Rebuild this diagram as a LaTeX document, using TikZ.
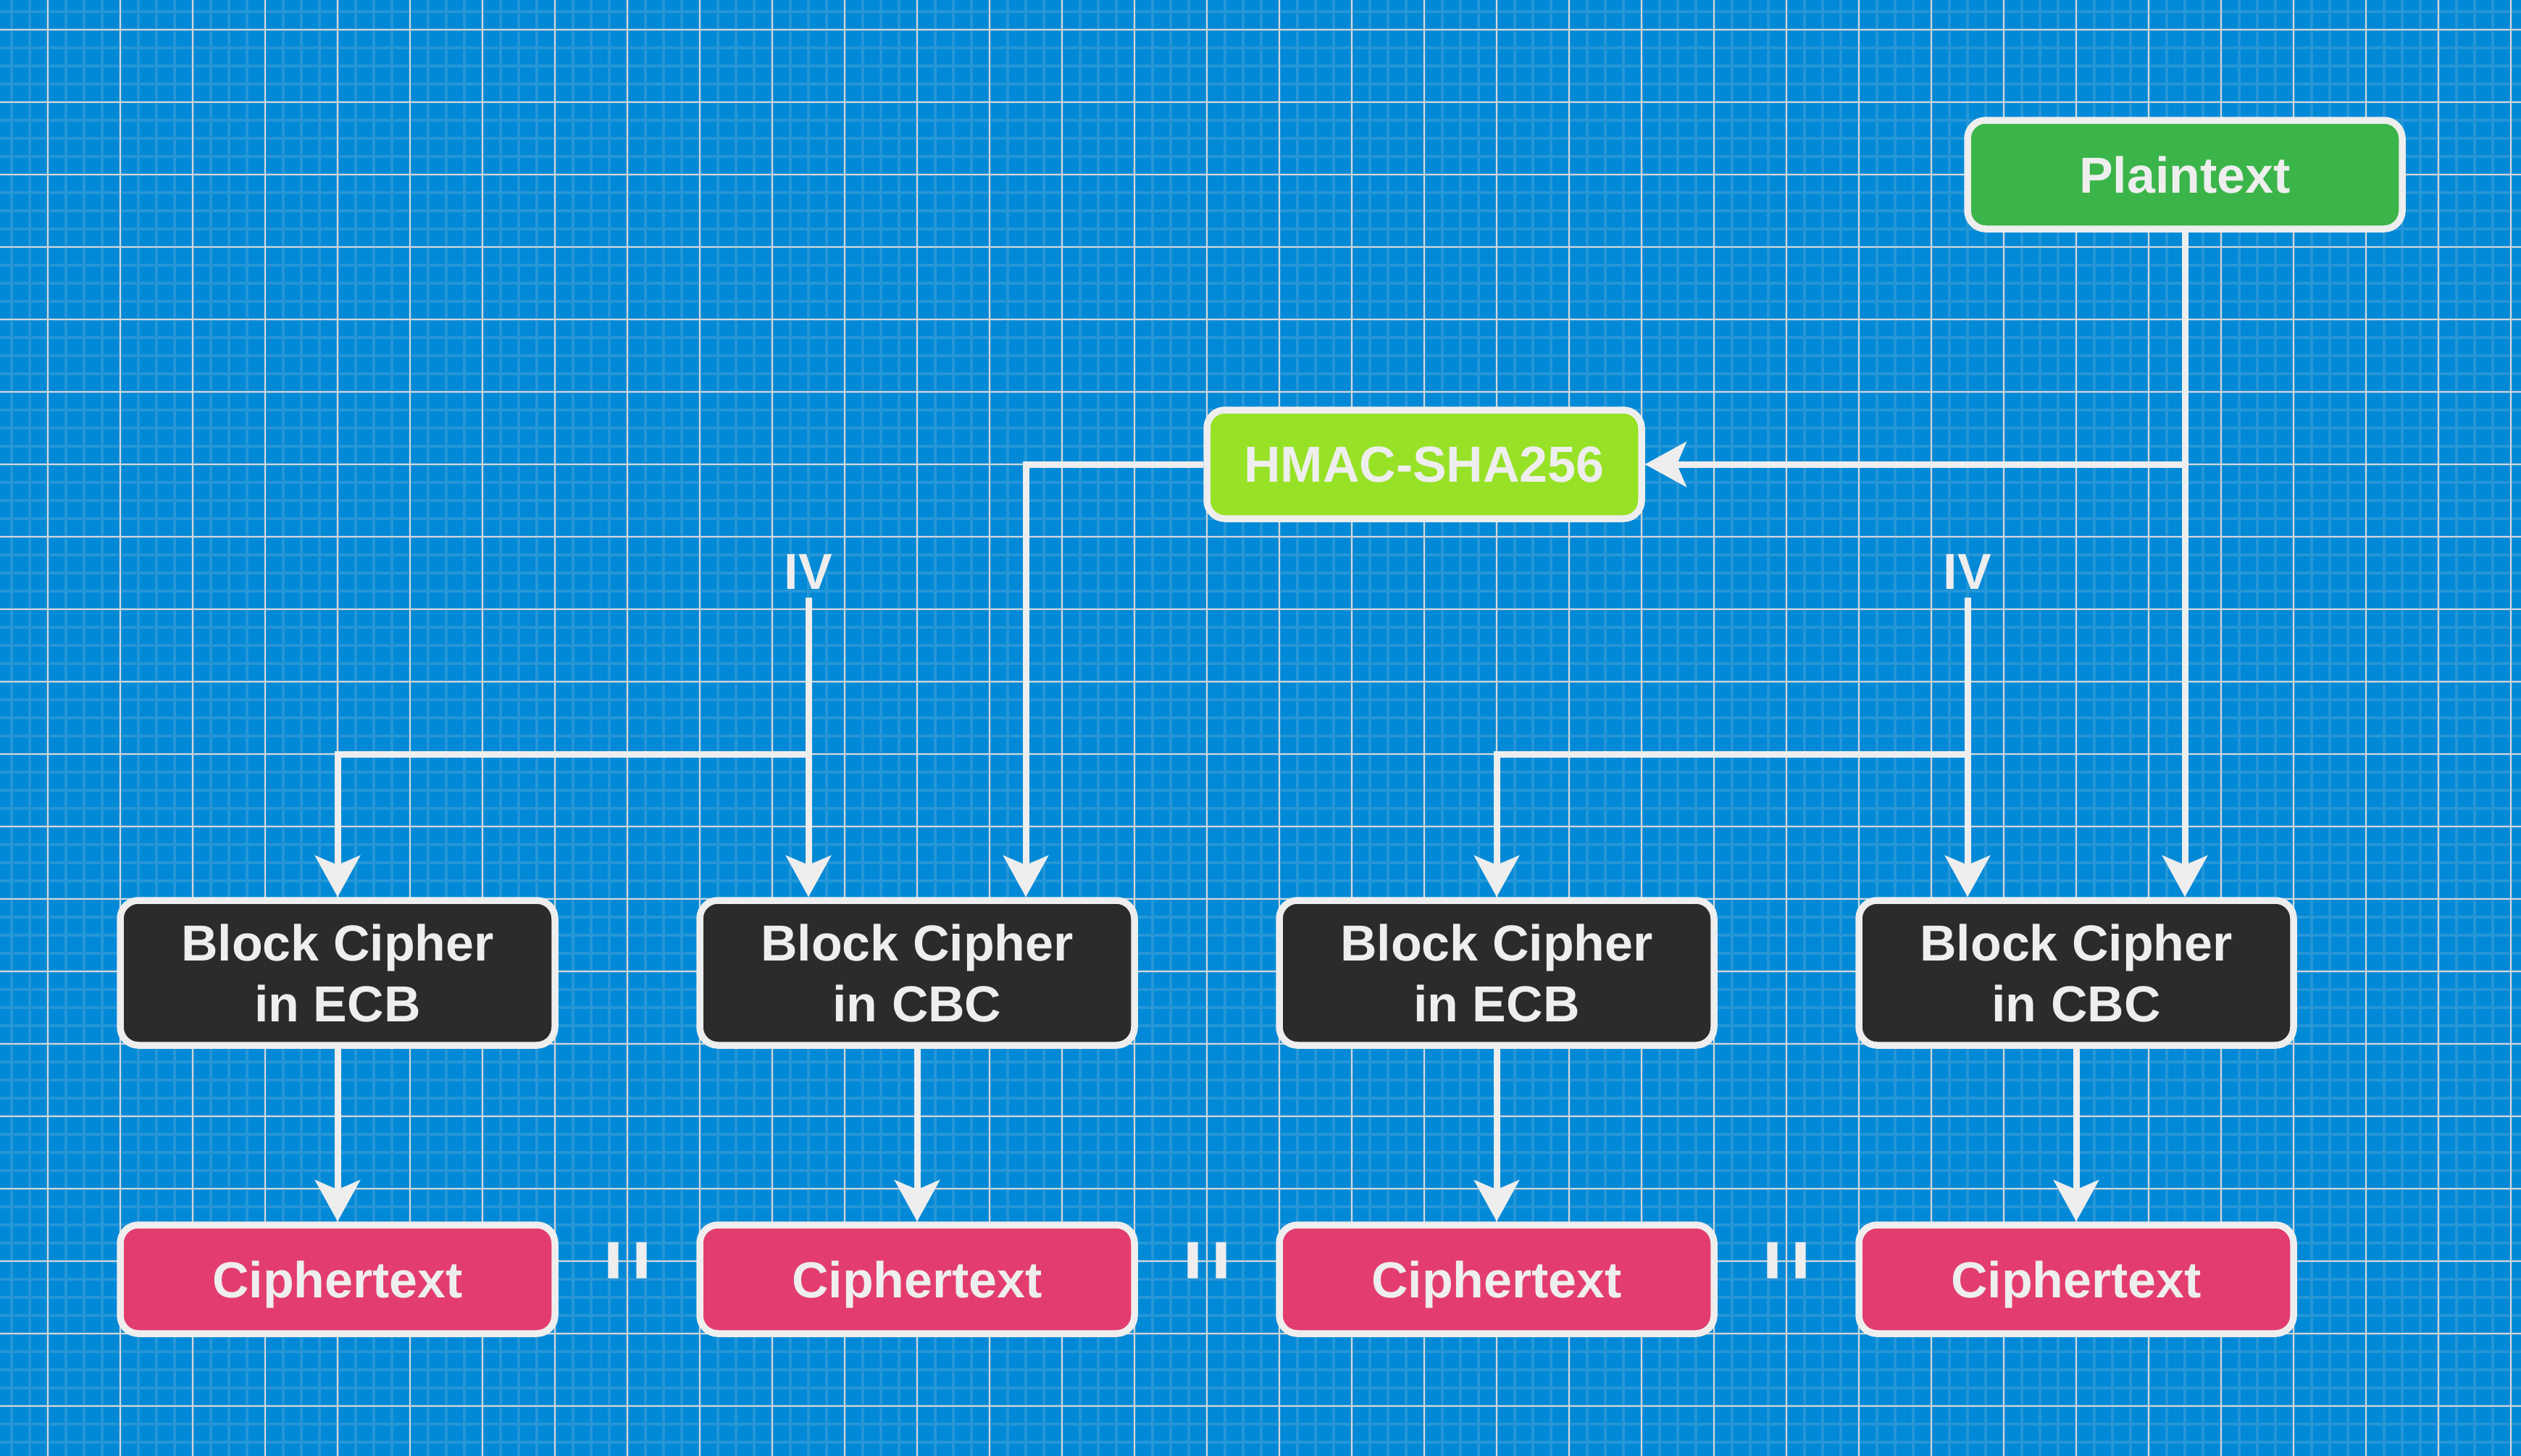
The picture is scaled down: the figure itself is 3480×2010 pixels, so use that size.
\documentclass[tikz,border=0pt]{standalone}
\usepackage{fontspec}
\setmainfont{Liberation Sans}
\usetikzlibrary{arrows.meta}

\definecolor{bgblue}{RGB}{0,137,214}
\definecolor{minorblue}{RGB}{38,150,215}
\definecolor{majorgrey}{RGB}{210,214,218}
\definecolor{offwhite}{RGB}{238,238,238}
\definecolor{plaingreen}{RGB}{59,181,74}
\definecolor{hmaclime}{RGB}{151,226,38}
\definecolor{blockdark}{RGB}{43,43,43}
\definecolor{cipherpink}{RGB}{227,61,111}

\begin{document}
\begin{tikzpicture}[x=0.1mm, y=-0.1mm,
    minorgrid/.style={draw=minorblue, line width=0.42mm},
    majorgrid/.style={draw=majorgrey, line width=0.2mm},
    box/.style={draw=offwhite, line width=0.95mm, rounded corners=2.5mm,
      text=offwhite, font=\bfseries\fontsize{19.9}{23.9}\selectfont,
      align=center, minimum width=60mm, minimum height=15mm, inner sep=0pt,
      text depth=0pt},
    plainbox/.style={box, fill=plaingreen},
    macbox/.style={box, fill=hmaclime},
    blockbox/.style={box, fill=blockdark, minimum height=20mm},
    cipherbox/.style={box, fill=cipherpink},
    ivlabel/.style={text=offwhite, font=\bfseries\fontsize{19.9}{23.9}\selectfont},
    concat/.style={text=offwhite, font=\bfseries\fontsize{15}{18}\selectfont, inner sep=0pt},
    arr/.style={draw=offwhite, line width=0.9mm,
      -{Stealth[length=5.7mm, width=6.2mm, inset=1.3mm]}}]
  \useasboundingbox (0,0) rectangle (3480,2010);
  \fill[bgblue] (0,0) rectangle (3480,2010);
  % blueprint grid
  \foreach \x in {16,41,...,3480} \draw[minorgrid] (\x,0) -- (\x,2010);
  \foreach \y in {16,41,...,2010} \draw[minorgrid] (0,\y) -- (3480,\y);
  \foreach \x in {66,166,...,3480} \draw[majorgrid] (\x,0) -- (\x,2010);
  \foreach \y in {41,141,...,2010} \draw[majorgrid] (0,\y) -- (3480,\y);

  \draw
    (3016,241) node[plainbox] (plain) {Plaintext}
    (1966,641) node[macbox] (hmac) {HMAC-SHA256}
    (1116,789) node[ivlabel] (iv1) {IV}
    (2716,789) node[ivlabel] (iv2) {IV}
    (466,1343) node[blockbox] (blk1) {Block Cipher\\in ECB}
    (1266,1343) node[blockbox] (blk2) {Block Cipher\\in CBC}
    (2066,1343) node[blockbox] (blk3) {Block Cipher\\in ECB}
    (2866,1343) node[blockbox] (blk4) {Block Cipher\\in CBC}
    (466,1766) node[cipherbox] (ct1) {Ciphertext}
    (1266,1766) node[cipherbox] (ct2) {Ciphertext}
    (2066,1766) node[cipherbox] (ct3) {Ciphertext}
    (2866,1766) node[cipherbox] (ct4) {Ciphertext}
    (866,1740) node[concat] (cat1) {\scalebox{2.1}[1]{|\hspace{0.38mm}|}}
    (1666,1740) node[concat] (cat2) {\scalebox{2.1}[1]{|\hspace{0.38mm}|}}
    (2466,1740) node[concat] (cat3) {\scalebox{2.1}[1]{|\hspace{0.38mm}|}};
  \coordinate (fork1) at (1116,1041);
  \coordinate (fork2) at (2716,1041);

  \begin{scope}[arr]
    \draw (plain) to (plain |- blk4.north);
    \draw (plain |- hmac) to (hmac.east);
    \draw (hmac.west) -| ([xshift=15mm]blk2.north);
    \draw (iv1) to (iv1 |- blk2.north);
    \draw (fork1) -| (blk1.north);
    \draw (iv2) to (iv2 |- blk4.north);
    \draw (fork2) -| (blk3.north);
    \draw (blk1) to (ct1);
    \draw (blk2) to (ct2);
    \draw (blk3) to (ct3);
    \draw (blk4) to (ct4);
  \end{scope}
\end{tikzpicture}
\end{document}
